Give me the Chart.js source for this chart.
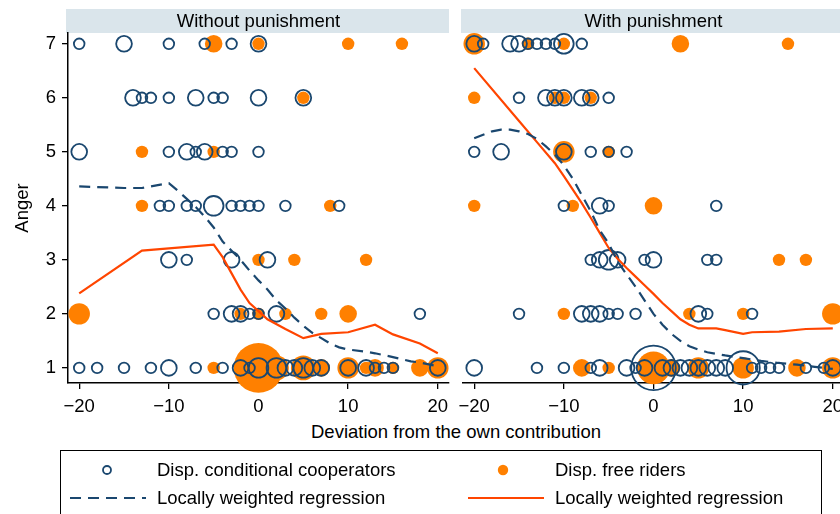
<!DOCTYPE html>
<html>
<head>
<meta charset="utf-8">
<script src="https://cdn.jsdelivr.net/npm/chart.js@4.4.0/dist/chart.umd.min.js"></script>
<style>
  body { margin: 0; width: 840px; height: 514px; overflow: hidden; background: #fff; position: relative;
         font-family: "Liberation Sans", Arial, sans-serif; font-size: 18.5px; color: #000; }
  #panelNo { position: absolute; left: 0; top: 0; }
  #panelWith { position: absolute; left: 456px; top: 0; }
  #yTitle { position: absolute; left: 22px; top: 208px; transform: translate(-50%, -50%) rotate(-90deg); white-space: nowrap; }
  #xTitle { position: absolute; left: 456px; top: 432px; transform: translate(-50%, -50%); white-space: nowrap; }
  #legend { position: absolute; left: 60px; top: 450px; width: 760px; height: 90px; border: 1.5px solid #000; }
  .lg { position: absolute; white-space: nowrap; transform: translateY(-50%); }
  svg.sym { position: absolute; overflow: visible; }
</style>
</head>
<body>
<canvas id="panelNo" width="456" height="420"></canvas>
<canvas id="panelWith" width="394" height="420"></canvas>
<div id="yTitle">Anger</div>
<div id="xTitle">Deviation from the own contribution</div>
<div id="legend"></div>
<svg class="sym" style="left:0;top:0" width="840" height="514">
  <circle cx="107" cy="470" r="4" fill="none" stroke="#1a476f" stroke-width="1.8"/>
  <circle cx="503" cy="470" r="5.2" fill="#ff8000"/>
  <line x1="70" y1="498" x2="146" y2="498" stroke="#1a476f" stroke-width="2.2" stroke-dasharray="11 7"/>
  <line x1="468" y1="498" x2="544" y2="498" stroke="#ff4500" stroke-width="2.2"/>
</svg>
<div class="lg" style="left:157px;top:470px">Disp. conditional cooperators</div>
<div class="lg" style="left:555px;top:470px">Disp. free riders</div>
<div class="lg" style="left:157px;top:498px">Locally weighted regression</div>
<div class="lg" style="left:555px;top:498px">Locally weighted regression</div>

<script>
// ticks
const xTicks = [-20, -10, 0, 10, 20];
const yTicks = [1, 2, 3, 4, 5, 6, 7];

// Without punishment: [deviation, anger, number of subjects]
const ccWithout = [
  [-20,7,1], [-15,7,2], [-10,7,1], [-6,7,1], [-3,7,1], [0,7,2],
  [-14,6,2], [-13,6,1], [-12,6,1], [-10,6,1], [-7,6,2], [-5,6,1], [-4,6,1], [0,6,2], [5,6,2],
  [-20,5,2], [-10,5,1], [-8,5,2], [-7,5,1], [-6,5,2], [-4,5,1], [-3,5,1], [0,5,1],
  [-11,4,1], [-10,4,1], [-8,4,1], [-7,4,1], [-5,4,3], [-3,4,1], [-2,4,1], [-1,4,1], [0,4,1], [3,4,1], [9,4,1],
  [-10,3,2], [-8,3,1], [-3,3,2], [1,3,2],
  [-5,2,1], [-3,2,2], [-2,2,2], [-1,2,1], [0,2,1], [2,2,2], [18,2,1],
  [-20,1,1], [-18,1,1], [-15,1,1], [-12,1,1], [-10,1,2], [-7,1,1], [-4,1,1], [-2,1,2], [-1,1,1],
  [0,1,3], [2,1,3], [3,1,2], [4,1,2], [5,1,3], [6,1,2], [7,1,2], [10,1,2], [12,1,2], [13,1,1],
  [14,1,1], [15,1,1], [20,1,2]
];
const frWithout = [
  [-5,7,2], [0,7,1], [10,7,1], [16,7,1],
  [5,6,1],
  [-13,5,1], [-5,5,1],
  [-13,4,1], [8,4,1],
  [0,3,1], [4,3,1], [12,3,1],
  [-20,2,3], [-2,2,1], [0,2,1], [3,2,1], [7,2,1], [10,2,2],
  [-5,1,1], [0,1,16], [2,1,4], [5,1,4], [7,1,2], [10,1,3], [12,1,1], [13,1,2], [15,1,1], [18,1,2], [20,1,3]
];
const loessCcWithoutX = [-20, -15, -13, -10, -9, -8, -7, -6, -5, -4, -3, -2, -1, 0, 1, 2, 3, 4, 5, 6, 7, 8, 9, 10, 12, 13, 15, 17, 18, 20];
const loessCcWithoutY = [4.36, 4.33, 4.33, 4.42, 4.28, 4.13, 3.98, 3.8, 3.6, 3.34, 3.17, 3.0, 2.8, 2.62, 2.45, 2.25, 2.1, 1.93, 1.78, 1.65, 1.55, 1.45, 1.38, 1.34, 1.3, 1.27, 1.2, 1.12, 1.1, 1.03];
const loessFrWithoutX = [-20, -13, -5, -4, -3, -2, -1, 0, 1, 3, 5, 7, 10, 13, 15, 18, 20];
const loessFrWithoutY = [2.38, 3.17, 3.28, 3.05, 2.75, 2.45, 2.2, 2.05, 1.9, 1.72, 1.55, 1.63, 1.66, 1.8, 1.62, 1.45, 1.27];

// With punishment
const ccWith = [
  [-20,7,2], [-19,7,1], [-16,7,2], [-15,7,2], [-14,7,1], [-13,7,1], [-12,7,1], [-11,7,1], [-10,7,3], [-8,7,1],
  [-15,6,1], [-12,6,2], [-11,6,2], [-10,6,2], [-8,6,2], [-7,6,2], [-5,6,1],
  [-20,5,1], [-17,5,2], [-10,5,2], [-7,5,1], [-5,5,1], [-3,5,1],
  [-10,4,1], [-6,4,2], [-5,4,1], [7,4,1],
  [-7,3,1], [-6,3,2], [-5,3,3], [-4,3,2], [-1,3,1], [0,3,2], [6,3,1], [7,3,1],
  [-15,2,1], [-8,2,2], [-7,2,2], [-6,2,2], [-5,2,1], [-4,2,1], [-2,2,1], [5,2,2], [6,2,1], [11,2,1],
  [-20,1,2], [-13,1,1], [-10,1,1], [-7,1,1], [-6,1,2], [-3,1,2], [-2,1,1], [-1,1,2], [0,1,14],
  [1,1,2], [2,1,2], [3,1,2], [4,1,2], [5,1,2], [6,1,2], [7,1,2], [8,1,2], [10,1,8], [11,1,1],
  [12,1,1], [13,1,1], [14,1,1], [17,1,1], [19,1,1], [20,1,2]
];
const frWith = [
  [-20,7,3], [-14,7,1], [-10,7,1], [3,7,2], [15,7,1],
  [-20,6,1], [-11,6,1], [-10,6,1], [-7,6,1],
  [-10,5,3], [-5,5,1],
  [-20,4,1], [-9,4,1], [0,4,2],
  [14,3,1], [17,3,1],
  [-10,2,1], [4,2,1], [10,2,1], [20,2,3],
  [-8,1,2], [-5,1,1], [0,1,7], [2,1,2], [5,1,3], [10,1,3], [16,1,2], [20,1,3]
];
const loessCcWithX = [-20, -18, -17, -16, -15, -14, -13, -12, -11, -10, -9, -8, -7, -6, -5, -4, -3, -2, -1, 0, 1, 2, 3, 4, 5, 6, 7, 8, 10, 12, 14, 16, 18, 20];
const loessCcWithY = [5.25, 5.38, 5.41, 5.41, 5.38, 5.33, 5.24, 5.1, 4.95, 4.75, 4.5, 4.2, 3.9, 3.55, 3.3, 2.97, 2.73, 2.5, 2.25, 2.0, 1.8, 1.63, 1.5, 1.4, 1.34, 1.29, 1.26, 1.23, 1.18, 1.13, 1.09, 1.06, 1.02, 0.98];
const loessFrWithX = [-20, -15, -13, -11, -10, -9, -8, -7, -6, -5, -4, -3, -2, -1, 0, 1, 2, 3, 4, 5, 7, 8, 10, 11, 14, 17, 20];
const loessFrWithY = [6.55, 5.57, 5.18, 4.79, 4.55, 4.3, 4.05, 3.78, 3.5, 3.22, 3.02, 2.85, 2.69, 2.53, 2.37, 2.2, 2.05, 1.9, 1.8, 1.73, 1.73, 1.7, 1.63, 1.66, 1.67, 1.72, 1.73];

const navy = '#1a476f';
const orange = '#ff8000';
const orangeRed = '#ff4500';

Chart.defaults.font.family = '"Liberation Sans", Arial, sans-serif';
Chart.defaults.font.size = 18.5;
Chart.defaults.color = '#000';

// grey strip with the panel name above each plot
const stripPlugin = {
  id: 'strip',
  beforeDraw(chart, args, opts) {
    const { ctx, chartArea } = chart;
    ctx.save();
    ctx.fillStyle = '#dae5eb';
    ctx.fillRect(chartArea.left - 2, 9, chartArea.right - chartArea.left + 2, 24);
    ctx.fillStyle = '#000';
    ctx.font = '18.5px "Liberation Sans", Arial, sans-serif';
    ctx.textAlign = 'center';
    ctx.textBaseline = 'middle';
    ctx.fillText(opts.text, (chartArea.left + chartArea.right) / 2, 21.5);
    ctx.restore();
  }
};

function toPoints(xs, ys) {
  return xs.map((x, i) => ({ x: x, y: ys[i] }));
}

function buildPanel(id, title, cc, fr, lccX, lccY, lfrX, lfrY, showY, padLeft, padRight) {
  return new Chart(document.getElementById(id).getContext('2d'), {
    type: 'bubble',
    data: {
      datasets: [
        {
          type: 'line',
          data: toPoints(lccX, lccY),
          borderColor: navy,
          borderWidth: 2.2,
          borderDash: [11, 7],
          pointRadius: 0,
          fill: false
        },
        {
          type: 'line',
          data: toPoints(lfrX, lfrY),
          borderColor: orangeRed,
          borderWidth: 2.2,
          pointRadius: 0,
          fill: false
        },
        {
          data: cc.map(p => ({ x: p[0], y: p[1], r: 6.2 * Math.sqrt(p[2]) - 0.9 })),
          backgroundColor: 'rgba(0,0,0,0)',
          borderColor: navy,
          borderWidth: 1.8,
          clip: false
        },
        {
          data: fr.map(p => ({ x: p[0], y: p[1], r: 6.2 * Math.sqrt(p[2]) })),
          backgroundColor: orange,
          borderWidth: 0,
          clip: false
        }
      ]
    },
    options: {
      responsive: false,
      animation: false,
      layout: { autoPadding: false, padding: { top: 33, left: padLeft, right: padRight, bottom: 0 } },
      plugins: {
        legend: { display: false },
        tooltip: { enabled: false },
        strip: { text: title }
      },
      scales: {
        x: {
          type: 'linear',
          min: -21.25,
          max: 21.25,
          afterBuildTicks: s => { s.ticks = xTicks.map(v => ({ value: v })); },
          afterFit: s => { s.height = 37; s.paddingLeft = 0; s.paddingRight = 0; },
          ticks: {
            padding: 7,
            maxRotation: 0,
            callback: v => String(v).replace('-', '\u2212')
          },
          grid: { drawOnChartArea: false, tickLength: 6, color: '#000', lineWidth: 1.3 },
          border: { color: '#000', width: 1.5 }
        },
        y: {
          display: showY,
          min: 0.72,
          max: 7.2,
          afterBuildTicks: s => { s.ticks = yTicks.map(v => ({ value: v })); },
          afterFit: s => { s.width = showY ? 68 : 0; s.paddingTop = 0; s.paddingBottom = 0; },
          ticks: { padding: 6 },
          grid: { drawOnChartArea: false, tickLength: 6, color: '#000', lineWidth: 1.3 },
          border: { color: '#000', width: 1.5 }
        }
      }
    },
    plugins: [stripPlugin]
  });
}

buildPanel('panelNo', 'Without punishment', ccWithout, frWithout,
  loessCcWithoutX, loessCcWithoutY, loessFrWithoutX, loessFrWithoutY, true, 0, 7);
buildPanel('panelWith', 'With punishment', ccWith, frWith,
  loessCcWithX, loessCcWithY, loessFrWithX, loessFrWithY, false, 7, 6);
</script>
</body>
</html>
